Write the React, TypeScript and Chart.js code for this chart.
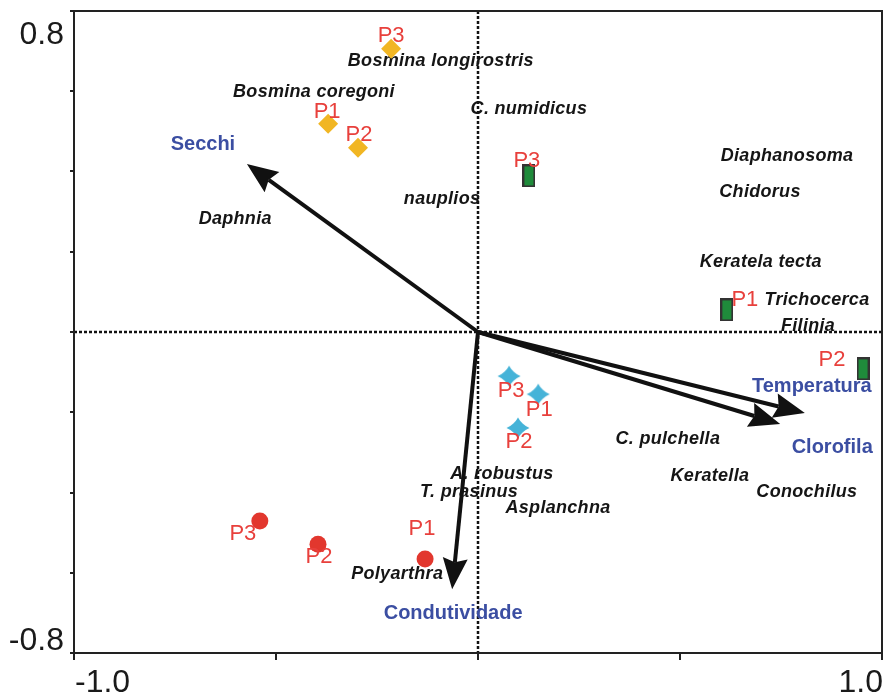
import React, { useEffect, useRef } from 'react';
import { Chart, registerables } from 'chart.js';

Chart.register(...registerables);

// ---------- data ----------
const xTickLabels = ['-1.0', '1.0'];
const yTickLabels = ['0.8', '-0.8'];

const siteNames = ['P1', 'P2', 'P3'];
const diamondX = [-0.371, -0.297, -0.215];
const diamondY = [0.519, 0.459, 0.706];
const rectX = [0.616, 0.953, 0.126];
const rectY = [0.055, -0.092, 0.389];
const starX = [0.149, 0.099, 0.077];
const starY = [-0.155, -0.239, -0.110];
const circleX = [-0.131, -0.396, -0.540];
const circleY = [-0.566, -0.529, -0.471];

const envNames = ['Secchi', 'Temperatura', 'Clorofila', 'Condutividade'];
const envX = [-0.572, 0.809, 0.748, -0.064];
const envY = [0.419, -0.202, -0.229, -0.641];

const speciesNames = [
  'Bosmina longirostris', 'Bosmina coregoni', 'C. numidicus', 'nauplios', 'Daphnia',
  'Diaphanosoma', 'Chidorus', 'Keratela tecta', 'Trichocerca', 'Filinia',
  'C. pulchella', 'Keratella', 'Conochilus', 'A. robustus', 'T. prasinus',
  'Asplanchna', 'Polyarthra',
];
const speciesX = [
  -0.092, -0.406, 0.126, -0.089, -0.601,
  0.765, 0.698, 0.700, 0.839, 0.817,
  0.470, 0.574, 0.814, 0.059, -0.022,
  0.198, -0.200,
];
const speciesY = [
  0.676, 0.599, 0.556, 0.332, 0.282,
  0.439, 0.349, 0.175, 0.080, 0.015,
  -0.267, -0.359, -0.399, -0.354, -0.399,
  -0.439, -0.603,
];

// ---------- label placement (pixel offsets from marker / arrow tip) ----------
const diamondLabelOffsets = [[-1, -12], [1, -13], [0, -13]];
const rectLabelOffsets = [[18, -10], [-31, -9], [-2, -15]];
const starLabelOffsets = [[1, 16], [1, 14], [2, 15]];
const circleLabelOffsets = [[-3, -30], [1, 13], [-17, 13]];
const envLabelOffsets = [[-44, -19], [7, -27], [52, 24], [1, 24]];

const FONT = '"Liberation Sans", Arial, Helvetica, sans-serif';
const RED_TEXT = '#e8403c';
const BLUE_TEXT = '#3b4ea2';
const AXIS = '#222222';

function makeRectSprite(): HTMLCanvasElement {
  const c = document.createElement('canvas');
  c.width = 13;
  c.height = 23;
  const g = c.getContext('2d')!;
  g.fillStyle = '#1f8b3b';
  g.fillRect(1, 1, 11, 21);
  g.strokeStyle = '#333333';
  g.lineWidth = 2;
  g.strokeRect(1, 1, 11, 21);
  return c;
}

function makeStarSprite(): HTMLCanvasElement {
  const c = document.createElement('canvas');
  c.width = 24;
  c.height = 22;
  const g = c.getContext('2d')!;
  const cx = 12, cy = 11, rx = 11.5, ry = 10.5, a = 2.4, b = 6.0;
  g.fillStyle = '#45b3d8';
  g.beginPath();
  g.moveTo(cx, cy - ry);
  g.bezierCurveTo(cx + a, cy - b, cx + b, cy - a, cx + rx, cy);
  g.bezierCurveTo(cx + b, cy + a, cx + a, cy + b, cx, cy + ry);
  g.bezierCurveTo(cx - a, cy + b, cx - b, cy + a, cx - rx, cy);
  g.bezierCurveTo(cx - b, cy - a, cx - a, cy - b, cx, cy - ry);
  g.closePath();
  g.fill();
  return c;
}

const pts = (xs: number[], ys: number[]) => xs.map((x, i) => ({ x, y: ys[i] }));

export default function App() {
  const ref = useRef<HTMLCanvasElement | null>(null);

  useEffect(() => {
    if (!ref.current) return;
    const rectSprite = makeRectSprite();
    const starSprite = makeStarSprite();

    const backgroundPlugin = {
      id: 'ordinationBackground',
      beforeDatasetsDraw(chart: any) {
        const { ctx, chartArea, scales } = chart;
        const xs = scales.x, ys = scales.y;
        const x0 = xs.getPixelForValue(0);
        const y0 = ys.getPixelForValue(0);
        ctx.save();
        // dotted zero lines
        ctx.strokeStyle = '#111';
        ctx.lineWidth = 2.5;
        ctx.setLineDash([3, 2]);
        ctx.beginPath();
        ctx.moveTo(x0, chartArea.top);
        ctx.lineTo(x0, chartArea.bottom);
        ctx.moveTo(chartArea.left, y0);
        ctx.lineTo(chartArea.right, y0);
        ctx.stroke();
        ctx.setLineDash([]);

        // species labels
        ctx.fillStyle = '#151515';
        ctx.font = `italic bold 18px ${FONT}`;
        (ctx as any).letterSpacing = '0.3px';
        ctx.textAlign = 'center';
        ctx.textBaseline = 'middle';
        speciesNames.forEach((n, i) => {
          ctx.fillText(n, xs.getPixelForValue(speciesX[i]), ys.getPixelForValue(speciesY[i]));
        });
        (ctx as any).letterSpacing = '0px';

        // arrows
        ctx.strokeStyle = '#111';
        ctx.fillStyle = '#111';
        envNames.forEach((_, i) => {
          const tx = xs.getPixelForValue(envX[i]);
          const ty = ys.getPixelForValue(envY[i]);
          const a = Math.atan2(ty - y0, tx - x0);
          const hl = 31, hw = 12.5;
          const bx = tx - hl * Math.cos(a);
          const by = ty - hl * Math.sin(a);
          ctx.lineWidth = 4;
          ctx.beginPath();
          ctx.moveTo(x0, y0);
          ctx.lineTo(bx + 4 * Math.cos(a), by + 4 * Math.sin(a));
          ctx.stroke();
          ctx.beginPath();
          ctx.moveTo(tx, ty);
          ctx.lineTo(bx + hw * Math.sin(a), by - hw * Math.cos(a));
          ctx.lineTo(bx + 4 * Math.cos(a), by + 4 * Math.sin(a));
          ctx.lineTo(bx - hw * Math.sin(a), by + hw * Math.cos(a));
          ctx.closePath();
          ctx.fill();
        });

        // environment labels
        ctx.fillStyle = BLUE_TEXT;
        ctx.font = `bold 20px ${FONT}`;
        envNames.forEach((n, i) => {
          const tx = xs.getPixelForValue(envX[i]);
          const ty = ys.getPixelForValue(envY[i]);
          ctx.fillText(n, tx + envLabelOffsets[i][0], ty + envLabelOffsets[i][1]);
        });
        ctx.restore();
      },
      afterDatasetsDraw(chart: any) {
        const { ctx, chartArea, scales } = chart;
        const xs = scales.x, ys = scales.y;
        ctx.save();
        // site labels
        ctx.fillStyle = RED_TEXT;
        ctx.font = `22px ${FONT}`;
        ctx.textAlign = 'center';
        ctx.textBaseline = 'middle';
        const groups: [number[], number[], number[][]][] = [
          [diamondX, diamondY, diamondLabelOffsets],
          [rectX, rectY, rectLabelOffsets],
          [starX, starY, starLabelOffsets],
          [circleX, circleY, circleLabelOffsets],
        ];
        groups.forEach(([gx, gy, off]) => {
          siteNames.forEach((n, i) => {
            ctx.fillText(n, xs.getPixelForValue(gx[i]) + off[i][0], ys.getPixelForValue(gy[i]) + off[i][1]);
          });
        });

        // frame
        ctx.strokeStyle = AXIS;
        ctx.lineWidth = 2;
        ctx.strokeRect(chartArea.left, chartArea.top, chartArea.right - chartArea.left, chartArea.bottom - chartArea.top);

        // axis end labels
        ctx.fillStyle = '#1a1a1a';
        ctx.font = `32px ${FONT}`;
        ctx.textBaseline = 'alphabetic';
        ctx.textAlign = 'right';
        ctx.fillText(yTickLabels[0], chartArea.left - 10, ys.getPixelForValue(0.8) + 33);
        ctx.fillText(yTickLabels[1], chartArea.left - 10, ys.getPixelForValue(-0.8) - 3);
        ctx.textAlign = 'left';
        ctx.fillText(xTickLabels[0], xs.getPixelForValue(-1) + 1, chartArea.bottom + 39);
        ctx.textAlign = 'right';
        ctx.fillText(xTickLabels[1], xs.getPixelForValue(1) + 1, chartArea.bottom + 39);
        ctx.restore();
      },
    };

    const chart = new Chart(ref.current, {
      type: 'scatter',
      data: {
        datasets: [
          {
            data: pts(diamondX, diamondY),
            pointStyle: 'rectRot',
            pointRadius: 10,
            backgroundColor: '#f1b623',
            borderColor: '#f1b623',
            borderWidth: 0,
          },
          {
            data: pts(rectX, rectY),
            pointStyle: rectSprite as any,
            pointRadius: 10,
          },
          {
            data: pts(starX, starY),
            pointStyle: starSprite as any,
            pointRadius: 10,
          },
          {
            data: pts(circleX, circleY),
            pointStyle: 'circle',
            pointRadius: 8.5,
            backgroundColor: '#e2372e',
            borderColor: '#e2372e',
            borderWidth: 0,
          },
        ],
      },
      options: {
        responsive: false,
        animation: false,
        events: [],
        layout: { padding: { left: 0, top: 10, right: 11, bottom: 0 } },
        plugins: { legend: { display: false }, tooltip: { enabled: false } },
        scales: {
          x: {
            type: 'linear',
            min: -1,
            max: 1,
            ticks: { stepSize: 0.5, display: false },
            grid: { drawOnChartArea: false, drawTicks: true, tickLength: 7, color: AXIS, lineWidth: 2 },
            border: { display: true, color: AXIS, width: 2 },
            afterFit: (s: any) => { s.height = 42; },
          },
          y: {
            type: 'linear',
            min: -0.8,
            max: 0.8,
            ticks: { stepSize: 0.2, display: false },
            grid: { drawOnChartArea: false, drawTicks: true, tickLength: 4, color: AXIS, lineWidth: 2 },
            border: { display: true, color: AXIS, width: 2 },
            afterFit: (s: any) => { s.width = 74; },
          },
        },
      },
      plugins: [backgroundPlugin],
    });
    return () => chart.destroy();
  }, []);

  return (
    <div style={{ position: 'fixed', left: 0, top: 0, width: 893, height: 695, background: '#fff' }}>
      <canvas ref={ref} width={893} height={695} />
    </div>
  );
}
